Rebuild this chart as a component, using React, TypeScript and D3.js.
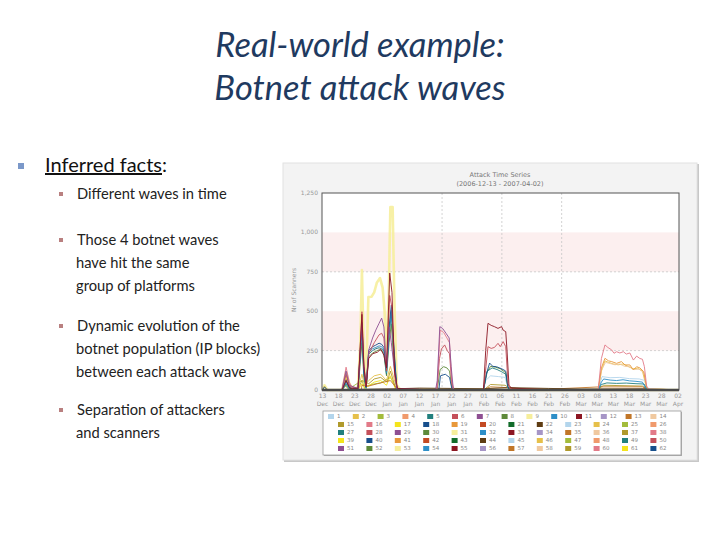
import React from 'react';
import * as d3 from 'd3';

// ---------- slide text ----------
const TITLE_LINES = ['Real-world example:', 'Botnet attack waves'];
const HEADING = 'Inferred facts';
const BULLETS: string[][] = [
  ['Different waves in time'],
  ['Those 4 botnet waves', 'have hit the same', 'group of platforms'],
  ['Dynamic evolution of the', 'botnet population (IP blocks)', 'between each attack wave'],
  ['Separation of attackers', 'and scanners'],
];

// ---------- chart text / ticks ----------
const CHART_TITLE = 'Attack Time Series';
const CHART_SUBTITLE = '(2006-12-13 - 2007-04-02)';
const Y_LABEL = 'Nr of Scanners';
const xTickDays = [0, 5, 10, 15, 20, 25, 30, 35, 40, 45, 50, 55, 60, 65, 70, 75, 80, 85, 90, 95, 100, 105, 110];
const xTickDayLabels = ['13', '18', '23', '28', '02', '07', '12', '17', '22', '27', '01', '06', '11', '16', '21', '26', '03', '08', '13', '18', '23', '28', '02'];
const xTickMonthLabels = ['Dec', 'Dec', 'Dec', 'Dec', 'Jan', 'Jan', 'Jan', 'Jan', 'Jan', 'Jan', 'Feb', 'Feb', 'Feb', 'Feb', 'Feb', 'Feb', 'Mar', 'Mar', 'Mar', 'Mar', 'Mar', 'Mar', 'Apr'];
const yTicks = [0, 250, 500, 750, 1000, 1250];
const yTickLabels = ['0', '250', '500', '750', '1,000', '1,250'];
const bandRanges: [number, number][] = [[250, 500], [750, 1000]];
const dashedValues = [250, 750];
const gridDays = [37, 55.5, 74];

// ---------- legend ----------
const legendRows: number[][] = [
  [1, 2, 3, 4, 5, 6, 7, 8, 9, 10, 11, 12, 13, 14],
  [15, 16, 17, 18, 19, 20, 21, 22, 23, 24, 25, 26],
  [27, 28, 29, 30, 31, 32, 33, 34, 35, 36, 37, 38],
  [39, 40, 41, 42, 43, 44, 45, 46, 47, 48, 49, 50],
  [51, 52, 53, 54, 55, 56, 57, 58, 59, 60, 61, 62],
];
const palette = [
  '#b3d5ec', '#e6c04a', '#a3bc3c', '#f09a6c', '#22807e', '#c4505a', '#8e4f92', '#5e8a3a',
  '#f6ee9c', '#2e8fc8', '#8c1622', '#a695c6', '#c17628', '#f0c9a0', '#b09a2c', '#e27a88',
  '#f4e41c', '#174f8c', '#e8983a', '#c44a22', '#126c2a', '#5e3c12',
];
const colorOf = (id: number) => palette[(id - 1) % palette.length];

// ---------- series: [day since 13 Dec 2006, scanners] ----------
const s9: [number, number][] = [[0, 0], [0.6, 30], [1.5, 0], [6, 0], [7.3, 110], [8.3, 40], [9.5, 5], [11, 20], [11.7, 300], [12.2, 761], [12.7, 300], [13.4, 20], [14.2, 590], [15.2, 592], [16, 620], [16.8, 680], [17.8, 710], [18.6, 650], [19.2, 500], [19.8, 210], [20.5, 600], [21, 1161], [21.7, 1161], [22.3, 500], [23, 30], [24, 5], [30, 0], [110, 0]];
const s11: [number, number][] = [[0, 0], [6, 0], [7.3, 60], [8.5, 10], [11, 10], [12.2, 480], [12.8, 150], [13.5, 20], [14.3, 200], [15.5, 230], [17, 240], [18, 260], [19, 220], [19.8, 140], [20.8, 742], [21.5, 620], [22.3, 120], [23.2, 10], [35, 0], [49.8, 0], [50.5, 250], [51.2, 423], [52.2, 410], [53.2, 402], [54.3, 391], [55.4, 402], [55.9, 380], [56.7, 370], [57.1, 250], [57.7, 30], [58.5, 12], [63, 8], [70, 2], [75, 0], [110, 0]];
const s7: [number, number][] = [[0, 0], [6, 0], [7.3, 120], [8.3, 30], [11, 10], [12.2, 420], [12.8, 150], [13.5, 30], [14.3, 254], [15.5, 330], [16.5, 380], [17.5, 423], [18.3, 456], [19, 400], [19.8, 148], [20.6, 400], [21.3, 300], [22, 170], [23, 10], [35, 0], [35.5, 60], [36.3, 402], [37.2, 390], [38.2, 360], [39.2, 330], [39.8, 150], [40.5, 0], [110, 0]];
const s16: [number, number][] = [[0, 0], [6, 0], [7.3, 145], [8.3, 50], [9.5, 0], [35.3, 0], [35.6, 50], [36.4, 380], [37.5, 365], [38.5, 330], [39.3, 300], [40, 60], [40.6, 0], [85.3, 0], [86.3, 200], [87.4, 286], [88.3, 270], [89.5, 254], [90.2, 233], [91, 243], [92, 235], [93.1, 243], [94, 228], [95.1, 235], [96.2, 190], [97.2, 215], [98.2, 200], [99, 195], [99.6, 148], [100.3, 25], [101, 5], [110, 0]];
const s6: [number, number][] = [[0, 0], [6, 0], [7.3, 100], [8.3, 25], [11, 10], [12.2, 497], [12.8, 160], [13.5, 25], [14.3, 230], [16, 300], [17.5, 350], [18.3, 360], [19, 330], [19.8, 120], [20.8, 600], [21.5, 520], [22.3, 90], [23.2, 5], [35.4, 0], [36.2, 200], [36.8, 260], [37.8, 286], [38.6, 250], [39.3, 230], [40, 40], [40.6, 0], [49.8, 0], [50.6, 150], [51.2, 275], [52.2, 264], [53.2, 270], [54.3, 296], [55, 275], [55.9, 307], [56.7, 275], [57.4, 40], [58, 10], [60, 0], [110, 0]];
const s18: [number, number][] = [[0, 0], [0.6, 20], [1.5, 0], [6, 0], [7.3, 60], [8.3, 15], [11, 10], [12.2, 430], [12.8, 120], [13.5, 20], [14.3, 250], [15.5, 275], [16.5, 285], [17.5, 297], [18.3, 290], [19, 270], [19.8, 127], [20.6, 400], [21.3, 539], [22, 300], [23, 10], [25, 0], [36, 0], [36.5, 90], [38, 100], [39.3, 80], [40, 10], [40.6, 0], [49.8, 0], [50.7, 100], [51.7, 171], [52.7, 150], [53.8, 148], [54.8, 140], [55.9, 130], [56.7, 120], [57.4, 20], [58, 0], [110, 0]];
const s10: [number, number][] = [[0, 0], [6, 0], [7.3, 50], [8.3, 10], [11, 5], [12.2, 400], [12.8, 110], [13.5, 15], [14.3, 240], [15.5, 262], [16.5, 270], [17.5, 280], [18.3, 275], [19, 255], [19.8, 110], [20.6, 380], [21.3, 505], [22, 280], [23, 8], [25, 0], [85.3, 0], [86.3, 50], [87, 70], [89, 63], [91, 60], [93, 65], [95, 58], [97, 55], [99, 50], [100, 10], [100.6, 0], [110, 0]];
const s5: [number, number][] = [[0, 0], [6, 0], [7.3, 40], [8.3, 10], [11, 5], [12.2, 380], [12.8, 100], [13.5, 15], [14.3, 228], [15.5, 250], [16.5, 262], [17.5, 268], [18.3, 262], [19, 245], [19.8, 100], [20.6, 350], [21.3, 480], [22, 250], [23, 8], [25, 0], [49.8, 0], [51, 120], [52.5, 140], [54, 130], [55.5, 115], [56.7, 100], [57.4, 15], [58, 0], [85.3, 0], [86.3, 35], [88, 45], [91, 42], [94, 44], [97, 40], [99.5, 38], [100.3, 5], [110, 0]];
const s8: [number, number][] = [[0, 0], [6, 0], [7.3, 30], [8.3, 5], [11, 5], [12.2, 300], [12.8, 80], [13.5, 10], [14.3, 210], [15.5, 235], [16.5, 245], [17.5, 255], [18.3, 250], [19, 230], [19.8, 90], [20.6, 300], [21.3, 420], [22, 200], [23, 5], [35.5, 0], [36.4, 130], [37.5, 148], [38.5, 140], [39.3, 120], [40, 20], [40.6, 0], [49.8, 0], [50.8, 110], [52, 150], [53.5, 145], [55, 135], [56.7, 110], [57.4, 10], [58, 0], [110, 0]];
const s19: [number, number][] = [[0, 0], [85.3, 0], [86.3, 140], [87.4, 201], [88.5, 185], [89.5, 180], [91, 169], [92.5, 180], [93.6, 159], [95.1, 159], [96.2, 127], [97.2, 148], [98.2, 140], [99.4, 116], [100.3, 15], [101, 3], [110, 0]];
const s14: [number, number][] = [[0, 0], [85.3, 0], [86.4, 130], [87.6, 175], [89, 168], [90.5, 160], [92, 165], [93.5, 150], [95, 148], [96.5, 130], [98, 132], [99.4, 110], [100.3, 10], [110, 0]];
const s2: [number, number][] = [[0, 0], [0.6, 25], [1.5, 0], [6, 0], [7.3, 90], [8.3, 20], [11, 5], [12.2, 100], [13, 30], [14.3, 60], [16, 90], [18, 100], [19.8, 60], [21, 150], [22, 80], [23, 10], [25, 0], [85.3, 0], [86.3, 120], [87.4, 185], [88.5, 175], [90, 165], [91.5, 160], [93, 165], [94.5, 150], [96, 135], [97.5, 138], [99, 120], [100.3, 10], [110, 0]];
const s1: [number, number][] = [[0, 0], [49.8, 0], [50.5, 60], [52, 90], [54.5, 85], [56.5, 80], [57.4, 10], [58, 0], [85.3, 0], [86.5, 85], [89, 78], [92, 80], [95, 72], [98, 70], [99.8, 60], [100.5, 5], [110, 0]];
const s15: [number, number][] = [[0, 0], [6, 0], [7.3, 70], [8.3, 15], [11, 5], [12.2, 60], [14.3, 40], [16, 70], [18, 80], [20, 50], [21, 120], [22.5, 20], [24, 5], [30, 3], [50, 2], [52, 35], [56.5, 30], [58, 10], [65, 5], [85, 2], [87, 30], [99, 25], [100.5, 3], [110, 0]];
const s17: [number, number][] = [[0, 0], [11, 0], [12.2, 40], [13, 10], [14.5, 30], [16, 50], [18, 60], [19.8, 30], [21, 90], [22.5, 10], [24, 0], [110, 0]];
const s13: [number, number][] = [[0, 0], [12, 0], [12.2, 30], [14.3, 25], [17, 40], [21, 60], [23, 10], [26, 5], [35, 5], [40, 5], [50, 5], [52, 20], [57, 15], [60, 10], [70, 5], [86, 20], [99, 20], [101, 2], [110, 0]];
const s3: [number, number][] = [[0, 0], [6, 0], [7, 30], [8, 5], [12.2, 60], [13, 15], [15, 35], [18, 45], [21, 80], [23, 5], [110, 0]];
const s22: [number, number][] = [[0, 0], [23, 8], [30, 12], [40, 10], [50, 8], [58, 15], [70, 10], [80, 6], [100, 8], [110, 0]];

const SERIES = [
  { id: 9, pts: s9, w: 2.6 },
  { id: 3, pts: s3, w: 1 },
  { id: 17, pts: s17, w: 1 },
  { id: 15, pts: s15, w: 1 },
  { id: 13, pts: s13, w: 1 },
  { id: 22, pts: s22, w: 1 },
  { id: 2, pts: s2, w: 1 },
  { id: 1, pts: s1, w: 1 },
  { id: 14, pts: s14, w: 1 },
  { id: 19, pts: s19, w: 1 },
  { id: 8, pts: s8, w: 1 },
  { id: 5, pts: s5, w: 1 },
  { id: 10, pts: s10, w: 1 },
  { id: 18, pts: s18, w: 1 },
  { id: 6, pts: s6, w: 1 },
  { id: 16, pts: s16, w: 1 },
  { id: 7, pts: s7, w: 1 },
  { id: 11, pts: s11, w: 1 },
];

const SLIDE_FONT = 'Lato, "Open Sans", sans-serif';
const CHART_FONT = '"DejaVu Sans", Verdana, sans-serif';

export default function App() {
  const plot = { left: 322, right: 679, top: 193, bottom: 390 };
  const x = d3.scaleLinear().domain([0, 110]).range([plot.left + 0.5, plot.right - 1]);
  const y = d3.scaleLinear().domain([0, 1250]).range([plot.bottom, plot.top]);
  const line = d3.line<[number, number]>().x((d) => x(d[0])).y((d) => y(d[1])).curve(d3.curveLinear);

  const bulletTop = [194, 240, 326, 410];
  const lineGap = 23;

  return (
    <svg width={720} height={540} style={{ position: 'absolute', left: 0, top: 0, background: '#fff' }}>
      <rect x={0} y={0} width={720} height={540} fill="#ffffff" />
      {/* Title */}
      {TITLE_LINES.map((t, i) => (
        <text key={t} x={360} y={57 + i * 43} textAnchor="middle" fontFamily={SLIDE_FONT} fontStyle="italic" fontSize={34.5} fill="#1f3a60">
          {t}
        </text>
      ))}

      {/* Heading bullet */}
      <rect x={18} y={163} width={6} height={6} fill="#7b98c9" />
      <text x={45} y={172} fontFamily={SLIDE_FONT} fontSize={20} fill="#111">
        <tspan style={{ textDecoration: 'underline' }}>{HEADING}</tspan>
        <tspan>:</tspan>
      </text>

      {BULLETS.map((lines, bi) => (
        <g key={bi}>
          <rect x={59} y={bulletTop[bi] - 2} width={4} height={4} fill="#b98080" />
          {lines.map((ln, li) => (
            <text key={li} x={li === 0 ? 77 : 76} y={bulletTop[bi] + 5 + li * lineGap} fontFamily={SLIDE_FONT} fontSize={14.7} fill="#222">
              {ln}
            </text>
          ))}
        </g>
      ))}

      {/* Chart panel */}
      <rect x={284} y={164} width={415} height={298} fill="#c8c8c8" />
      <rect x={283} y={163} width={414} height={297} fill="#f3f3f3" stroke="#e2e2e2" />
      <text x={500} y={177} textAnchor="middle" fontFamily={CHART_FONT} fontSize={6.5} fill="#777">{CHART_TITLE}</text>
      <text x={500} y={186} textAnchor="middle" fontFamily={CHART_FONT} fontSize={6.5} fill="#777">{CHART_SUBTITLE}</text>

      {/* Plot area */}
      <rect x={plot.left} y={plot.top} width={plot.right - plot.left} height={plot.bottom - plot.top} fill="#ffffff" />
      {bandRanges.map(([a, b], i) => (
        <rect key={i} x={plot.left} y={y(b)} width={plot.right - plot.left} height={y(a) - y(b)} fill="#fcefef" />
      ))}
      {dashedValues.map((v) => (
        <line key={v} x1={plot.left} x2={plot.right} y1={y(v)} y2={y(v)} stroke="#c8c8c8" strokeDasharray="2,2" strokeWidth={0.8} />
      ))}
      {gridDays.map((d) => (
        <line key={d} x1={x(d)} x2={x(d)} y1={plot.top} y2={plot.bottom} stroke="#c8c8c8" strokeDasharray="2,2" strokeWidth={0.8} />
      ))}

      {/* Series */}
      <g>
        {SERIES.map((s) => (
          <path key={s.id} d={line(s.pts) || ''} fill="none" stroke={colorOf(s.id)} strokeWidth={s.w} strokeLinejoin="round" opacity={0.9} />
        ))}
      </g>

      {/* Plot border */}
      <rect x={plot.left} y={plot.top} width={plot.right - plot.left} height={plot.bottom - plot.top} fill="none" stroke="#555" strokeWidth={1} />
      <line x1={plot.left} x2={plot.right} y1={plot.bottom} y2={plot.bottom} stroke="#4a4a4a" strokeWidth={2.5} />

      {/* Y axis labels */}
      {yTicks.map((v, i) => (
        <text key={v} x={318} y={y(v)} dy="0.32em" textAnchor="end" fontFamily={CHART_FONT} fontSize={6} fill="#999">
          {yTickLabels[i]}
        </text>
      ))}
      <text transform={`translate(296,290) rotate(-90)`} textAnchor="middle" fontFamily={CHART_FONT} fontSize={6} fill="#999">
        {Y_LABEL}
      </text>

      {/* X axis labels */}
      {xTickDays.map((d, i) => (
        <g key={d}>
          <text x={x(d)} y={398} textAnchor="middle" fontFamily={CHART_FONT} fontSize={6} fill="#999">{xTickDayLabels[i]}</text>
          <text x={x(d)} y={406} textAnchor="middle" fontFamily={CHART_FONT} fontSize={6} fill="#999">{xTickMonthLabels[i]}</text>
        </g>
      ))}

      {/* Legend */}
      <rect x={324} y={412} width={358} height={44} fill="#b0b0b0" />
      <rect x={323} y={411} width={358} height={44} fill="#ffffff" stroke="#9a9a9a" strokeWidth={0.8} />
      {legendRows.map((row, ri) => {
        const x0 = ri === 0 ? 328 : 338;
        const dx = ri === 0 ? 24.8 : 28.4;
        const cy = 416.5 + ri * 8;
        return row.map((id, k) => (
          <g key={id}>
            <rect x={x0 + k * dx} y={cy - 2.5} width={6} height={5} fill={colorOf(id)} />
            <text x={x0 + k * dx + 9} y={cy} dy="0.35em" fontFamily={CHART_FONT} fontSize={5.5} fill="#888">{id}</text>
          </g>
        ));
      })}
    </svg>
  );
}
